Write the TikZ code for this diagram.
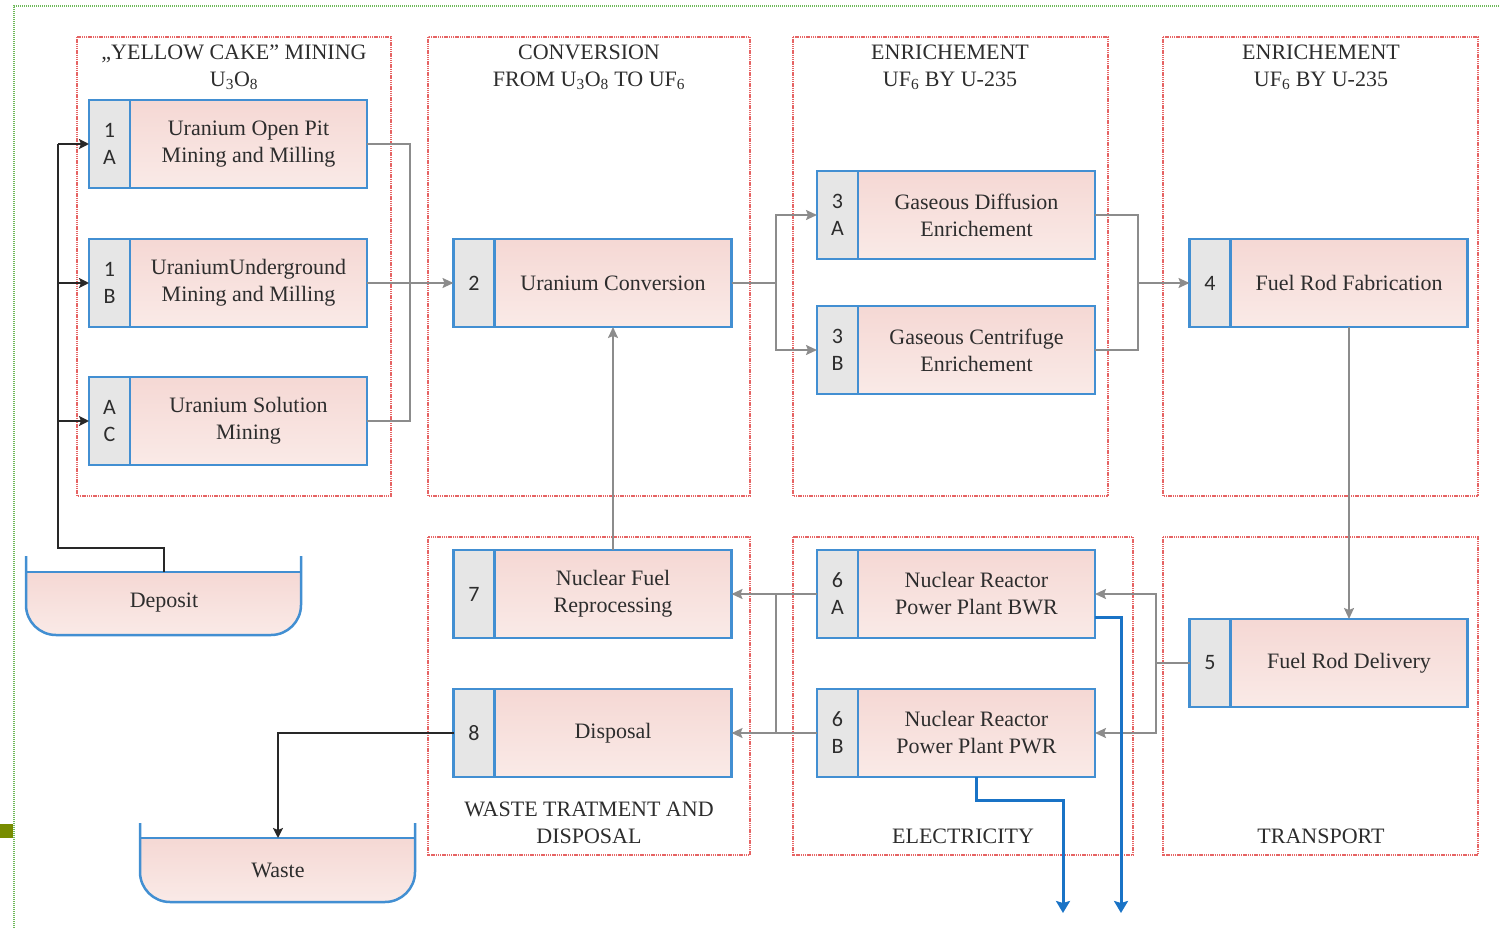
\documentclass[tikz,border=0pt]{standalone}
\usepackage{fontspec}
\setmainfont{Liberation Serif}
\newfontfamily\tagfont{Carlito}
\usetikzlibrary{positioning,arrows.meta}

\definecolor{boxblue}{RGB}{66,143,210}
\definecolor{elecblue}{RGB}{25,115,198}
\definecolor{pinktop}{RGB}{245,216,212}
\definecolor{pinkbot}{RGB}{250,234,231}
\definecolor{cellgray}{RGB}{230,230,230}
\definecolor{flowgray}{RGB}{140,140,140}
\definecolor{darkline}{RGB}{40,40,40}
\definecolor{framered}{RGB}{230,100,100}
\definecolor{framegreen}{RGB}{110,185,90}
\definecolor{txtgray}{RGB}{45,45,45}

% process box: pink part plus the grey number cell on its left
\newcommand{\procbox}[4]{%
  \node[proc] (#1) at (#2) {#4};
  \node[tagcell, left=0pt of #1] (#1-tag) {#3};}

\begin{document}
\begin{tikzpicture}[x=1pt,y=-1pt,
    proc/.style={draw=boxblue, line width=2.5pt, top color=pinktop, bottom color=pinkbot,
      minimum width=237pt, minimum height=88pt, outer sep=0pt, align=center,
      text=txtgray, font=\fontsize{22}{27}\selectfont},
    tagcell/.style={draw=boxblue, line width=2.5pt, fill=cellgray,
      minimum width=41pt, minimum height=88pt, outer sep=0pt, inner sep=0pt, align=center,
      text=txtgray, font=\tagfont\fontsize{22}{27}\selectfont},
    grpframe/.style={draw=framered, line width=2.2pt, dash pattern=on 1.4pt off 0.8pt},
    grptitle/.style={align=center, text=txtgray, font=\fontsize{22}{27}\selectfont},
    flow/.style={draw=flowgray, line width=1.8pt},
    flowarr/.style={flow, -{Stealth[length=11pt,width=10pt,inset=2pt]}},
    darkflow/.style={draw=darkline, line width=2.8pt, -{Stealth[length=10pt,width=10pt,inset=2pt]}},
    elec/.style={draw=elecblue, line width=3pt, -{Stealth[length=12pt,width=14pt,inset=2pt]}},
    tank/.style={draw=boxblue, line width=2.5pt}]
  \useasboundingbox (0,0) rectangle (1499,928);

  % outer frame
  \draw[draw=framegreen, line width=2pt, dash pattern=on 1.2pt off 0.8pt] (14,928) -- (14,6) -- (1499,6);
  \fill[fill={rgb,255:red,120;green,140;blue,0}] (0,824) rectangle (13,838);

  % stage frames
  \draw[grpframe] (77,37) rectangle (391,496);
  \draw[grpframe] (428,37) rectangle (750,496);
  \draw[grpframe] (793,37) rectangle (1108,496);
  \draw[grpframe] (1163,37) rectangle (1478,496);
  \draw[grpframe] (428,537) rectangle (750,855);
  \draw[grpframe] (793,537) rectangle (1133,855);
  \draw[grpframe] (1163,537) rectangle (1478,855);

  % stage titles
  \node[grptitle] (tmine) at (234,67) {„YELLOW CAKE” MINING\\U\textsubscript{3}O\textsubscript{8}};
  \node[grptitle] (tconv) at (589,67) {CONVERSION\\FROM U\textsubscript{3}O\textsubscript{8} TO UF\textsubscript{6}};
  \node[grptitle] (tenr) at (950,67) {ENRICHEMENT\\UF\textsubscript{6} BY U-235};
  \node[grptitle] (tfab) at (1321,67) {ENRICHEMENT\\UF\textsubscript{6} BY U-235};
  \node[grptitle] (twaste) at (589,823) {WASTE TRATMENT AND\\DISPOSAL};
  \node[grptitle] (telec) at (963,836) {ELECTRICITY};
  \node[grptitle] (ttrans) at (1321,836) {TRANSPORT};

  % process boxes
  \procbox{n1a}{248.5,144}{1\\A}{Uranium Open Pit\\Mining and Milling}
  \procbox{n1b}{248.5,283}{1\\B}{UraniumUnderground\\Mining and Milling}
  \procbox{nac}{248.5,421}{A\\C}{Uranium Solution\\Mining}
  \procbox{n2}{613,283}{2}{Uranium Conversion}
  \procbox{n3a}{976.5,215}{3\\A}{Gaseous Diffusion\\Enrichement}
  \procbox{n3b}{976.5,350}{3\\B}{Gaseous Centrifuge\\Enrichement}
  \procbox{n4}{1349,283}{4}{Fuel Rod Fabrication}
  \procbox{n5}{1349,663}{5}{Fuel Rod Delivery}
  \procbox{n6a}{976.5,594}{6\\A}{Nuclear Reactor\\Power Plant BWR}
  \procbox{n6b}{976.5,733}{6\\B}{Nuclear Reactor\\Power Plant PWR}
  \procbox{n7}{613,594}{7}{Nuclear Fuel\\Reprocessing}
  \procbox{n8}{613,733}{8}{Disposal}

  % deposit tank
  \fill[top color=pinktop, bottom color=pinkbot] (26,572) -- (26,605) arc[start angle=180, end angle=90, radius=30]
    -- (271,635) arc[start angle=90, end angle=0, radius=30] -- (301,572) -- cycle;
  \draw[tank] (26,556) -- (26,605) arc[start angle=180, end angle=90, radius=30]
    -- (271,635) arc[start angle=90, end angle=0, radius=30] -- (301,556);
  \draw[tank] (26,572) -- (301,572);
  \node[text=txtgray, font=\fontsize{22}{27}\selectfont] (deposit) at (164,603) {Deposit};
  \coordinate (dep-in) at (164,572);

  % waste tank
  \fill[top color=pinktop, bottom color=pinkbot] (140,838) -- (140,872) arc[start angle=180, end angle=90, radius=30]
    -- (385,902) arc[start angle=90, end angle=0, radius=30] -- (415,838) -- cycle;
  \draw[tank] (140,823) -- (140,872) arc[start angle=180, end angle=90, radius=30]
    -- (385,902) arc[start angle=90, end angle=0, radius=30] -- (415,823);
  \draw[tank] (140,838) -- (415,838);
  \node[text=txtgray, font=\fontsize{22}{27}\selectfont] (waste) at (278,870) {Waste};
  \coordinate (waste-in) at (278,838);

  % deposit feeds the three mines
  \coordinate (bus) at (58,548);
  \draw[draw=darkline, line width=2.8pt] (dep-in) |- (bus) -- (bus |- n1b-tag.west);
  \draw[darkflow] (bus |- n1a-tag.west) -- (n1a-tag.west);
  \draw[darkline, line width=2.8pt] (bus |- n1b-tag.west) -- (bus |- n1a-tag.west);
  \draw[darkflow] (bus |- n1b-tag.west) -- (n1b-tag.west);
  \draw[darkflow] (bus |- nac-tag.west) -- (nac-tag.west);

  % mines to conversion
  \coordinate (mjoin) at (410,283);
  \draw[flow] (n1a.east) -| (mjoin);
  \draw[flow] (nac.east) -| (mjoin);
  \draw[flowarr] (n1b.east) -- (n2-tag.west);

  % conversion to enrichment
  \coordinate (csplit) at (776,283);
  \draw[flow] (n2.east) -- (csplit);
  \draw[flowarr] (csplit) |- (n3a-tag.west);
  \draw[flowarr] (csplit) |- (n3b-tag.west);

  % enrichment to fabrication
  \coordinate (ejoin) at (1138,283);
  \draw[flow] (n3a.east) -| (ejoin);
  \draw[flow] (n3b.east) -| (ejoin);
  \draw[flowarr] (ejoin) -- (n4-tag.west);

  % fabrication to delivery
  \draw[flowarr] (n4.south) -- (n5.north);

  % delivery to reactors
  \coordinate (dsplit) at (1156,663);
  \draw[flow] (n5-tag.west) -- (dsplit);
  \draw[flowarr] (dsplit) |- (n6a.east);
  \draw[flowarr] (dsplit) |- (n6b.east);

  % reactors to reprocessing and disposal
  \coordinate (rbus) at (776,594);
  \draw[flowarr] (n6a-tag.west) -- (n7.east);
  \draw[flowarr] (n6b-tag.west) -- (n8.east);
  \draw[flow] (rbus) -- (rbus |- n8.east);

  % reprocessing back to conversion
  \draw[flowarr] (n7.north) -- (n2.south);

  % disposal to waste
  \draw[darkflow] (n8-tag.west) -| (waste-in);

  % electricity out
  \coordinate (elec1) at (1121,913);
  \coordinate (elec2) at (1063,913);
  \draw[elec] ([yshift=-23pt]n6a.east) -| (elec1);
  \draw[elec] (n6b.south) -- ++(0,23) -| (elec2);
\end{tikzpicture}
\end{document}
